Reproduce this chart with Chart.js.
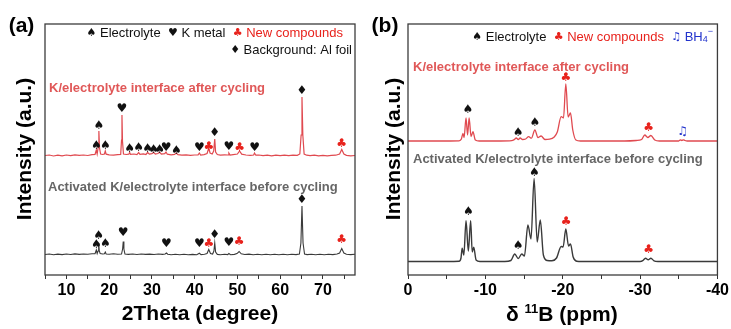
<!DOCTYPE html>
<html><head><meta charset="utf-8">
<script src="https://cdn.jsdelivr.net/npm/chart.js@4.4.0/dist/chart.umd.min.js"></script>
<style>html,body{margin:0;padding:0;background:#fff;overflow:hidden}
#wrap{position:relative;width:731px;height:329px;background:#fff}
canvas{position:absolute;top:0}
</style></head><body><div id="wrap"><canvas id="ca" width="366" height="329" style="left:0"></canvas><canvas id="cb" width="365" height="329" style="left:366px"></canvas></div>
<script>
// ---------- Panel (a): XRD, 2Theta (degree) vs intensity (a.u., offset) ----------
const xrdAfter = [[5,119.5],[6,120],[7,119],[8,119.8],[9,119.2],[10,120],[11,119.4],[12,120.2],[13,119.6],[14,120],[15,119.5],[16,120.3],[16.7,120.5],[17.0,125],[17.2,121],[17.45,128],[17.6,144],[17.75,127],[18.0,121],[18.5,120.5],[18.9,121],[19.1,124],[19.3,120.8],[20,120.2],[21,119.8],[22,120.4],[22.7,120.5],[22.9,135],[23.0,160],[23.12,134],[23.35,121],[24,120.5],[24.6,120.8],[24.8,122.5],[25.0,120.6],[25.8,121],[26.5,120.4],[26.9,122.5],[27.2,120.6],[28,121.2],[28.6,120.5],[29.0,122.5],[29.4,120.8],[30.0,121.4],[30.4,122.6],[30.8,121],[31.4,121.5],[31.8,122.8],[32.2,121],[33.0,121.4],[33.3,123],[33.6,120.8],[34.5,120.2],[35.3,120.6],[35.7,122],[36.1,120.4],[37,119.8],[38,120.2],[39,119.6],[40,120],[40.8,120.2],[41.1,122],[41.4,120],[42.2,120.4],[42.9,121.5],[43.3,127],[43.6,122],[44.1,121],[44.45,124],[44.7,136],[44.9,123],[45.3,120.5],[46,119.8],[47,120.2],[47.8,120],[48.0,122],[48.3,120],[49,120.4],[50,121],[50.5,124],[51,120.8],[52,120],[53,119.6],[53.8,120],[54.0,122],[54.3,119.8],[55,120],[56,119.4],[57,119.8],[58,119.2],[59,119.8],[60,119.3],[61,119.9],[62,119.4],[63,119.8],[64,119.6],[64.6,121],[64.9,140],[65.1,178],[65.3,140],[65.6,121],[66.2,119.8],[67,119.4],[68,119.9],[69,119.2],[70,119.7],[71,119.1],[72,119.6],[73,119.8],[73.9,121],[74.4,125.5],[74.9,121],[75.5,119.6],[76.5,119.2],[77.5,119.5]];
const xrdBefore = [[5,20.5],[6,21],[7,20.2],[8,20.9],[9,20.4],[10,21],[11,20.5],[12,21.1],[13,20.6],[14,21],[15,20.7],[16,21.2],[16.7,21.3],[17.0,25],[17.2,21.5],[17.4,24],[17.55,32],[17.7,24],[17.9,21.5],[18.5,21],[18.9,21.3],[19.1,23],[19.3,21],[20,20.8],[21,21.2],[22,20.7],[22.9,21],[23.15,26],[23.3,33.5],[23.45,26],[23.7,21],[24.5,20.6],[25.5,21],[26.5,20.5],[27.5,21],[28.5,20.6],[29.5,20.9],[30.5,20.5],[31.5,21],[32.5,20.6],[33.1,21],[33.4,22],[33.7,20.8],[34.5,20.3],[35.5,20.8],[36.5,20.3],[37.5,20.7],[38.5,20.2],[39.5,20.6],[40.5,20.3],[41.1,21.8],[41.5,20.4],[42.3,20.8],[42.9,21.5],[43.3,25.5],[43.7,21.5],[44.2,21],[44.5,24],[44.7,32],[44.9,23],[45.3,20.6],[46,20.3],[47,20.7],[47.7,20.4],[48,21.5],[48.4,20.3],[49.3,20.6],[49.9,21.4],[50.4,23.5],[50.9,21.2],[51.7,20.5],[52.7,20.9],[53.7,20.3],[54.7,20.8],[55.7,20.2],[56.7,20.7],[57.7,20.3],[58.7,20.8],[59.7,20.2],[60.7,20.7],[61.7,20.3],[62.7,20.8],[63.7,20.4],[64.5,21],[64.85,32],[65.1,69],[65.35,32],[65.7,21],[66.3,20.4],[67.3,20.8],[68.3,20.2],[69.3,20.7],[70.3,20.3],[71.3,20.8],[72.3,20.4],[73.3,21],[73.9,22],[74.4,26.5],[74.9,22],[75.5,20.8],[76.5,20.4],[77.5,20.7]];
// peak markers: [2theta, intensity, kind]  S=electrolyte H=K metal C=new compound D=Al foil
const xrdAfterMarks = [[17.0,129,'S'],[17.6,149.5,'S'],[19.1,129,'S'],[23.0,166,'H'],[24.8,126.5,'S'],[26.9,127.5,'S'],[29.0,126.5,'S'],[30.4,125,'S'],[31.8,125.5,'S'],[33.3,127.5,'H'],[35.7,124,'S'],[41.1,127.5,'H'],[43.3,128.5,'C'],[44.7,142,'D'],[48.0,128,'H'],[50.5,127,'C'],[54.0,127,'H'],[65.1,184,'D'],[74.4,131.5,'C']];
const xrdBeforeMarks = [[17.0,30,'S'],[17.55,39.5,'S'],[19.1,31,'S'],[23.3,42,'H'],[33.4,31,'H'],[41.1,31,'H'],[43.3,31,'C'],[44.7,40,'D'],[48.0,32,'H'],[50.4,33,'C'],[65.1,75,'D'],[74.4,35,'C']];
const xrdTicks = [10,20,30,40,50,60,70];

// ---------- Panel (b): 11B NMR, delta (ppm) ----------
const nmrAfter = [[0,134],[-4,134],[-6.6,134.2],[-6.9,136],[-7.1,141.7],[-7.25,137.5],[-7.5,157],[-7.7,140],[-7.9,157],[-8.15,138.5],[-8.4,143.3],[-8.7,135],[-9.2,134],[-12,134],[-13.4,134.3],[-13.75,135.5],[-14.0,137],[-14.25,135.5],[-14.5,137],[-14.8,135.5],[-15.2,136],[-15.6,138.3],[-15.95,136.8],[-16.4,145],[-16.8,137.5],[-17.2,139],[-17.7,135.5],[-18.3,135.8],[-18.9,138],[-19.3,143],[-19.8,158.3],[-20.1,157],[-20.4,191],[-20.7,158],[-21.0,162],[-21.3,145],[-21.7,135],[-22.3,134],[-28,134],[-29.5,134.5],[-30.2,135.5],[-30.6,140],[-31.0,137.5],[-31.4,139.5],[-31.9,135],[-32.5,134],[-35,134],[-35.2,135.2],[-35.4,134.5],[-35.6,135.2],[-35.8,134.5],[-36.1,134],[-40,134]];
const nmrBefore = [[0,13.5],[-5,13.5],[-6.6,13.7],[-6.85,17],[-7.0,26.7],[-7.22,20],[-7.5,54.3],[-7.8,24],[-8.1,54.3],[-8.3,23],[-8.5,27.7],[-8.8,15],[-9.3,13.5],[-12.5,13.5],[-13.3,14.5],[-13.8,21],[-14.25,16.5],[-14.7,21],[-15.05,19],[-15.5,50],[-15.9,36],[-16.3,96.5],[-16.7,33],[-17.1,55],[-17.5,20],[-18.0,14.5],[-18.6,14.2],[-19.2,17],[-19.8,28.5],[-20.05,28],[-20.4,46],[-20.75,29],[-21.0,31],[-21.35,18],[-21.8,13.8],[-22.5,13.5],[-30,13.5],[-30.35,14.3],[-30.7,16.7],[-31.05,15.2],[-31.4,16.7],[-31.8,14.2],[-32.3,13.5],[-40,13.5]];
const nmrAfterMarks = [[-7.75,165,'S'],[-14.25,142.3,'S'],[-16.4,152.3,'S'],[-20.4,197,'C'],[-31.1,146.7,'C'],[-35.5,143.3,'N']];
const nmrBeforeMarks = [[-7.8,62.7,'S'],[-14.25,29.3,'S'],[-16.35,102,'S'],[-20.45,53.3,'C'],[-31.1,25,'C']];
const nmrTicks = [0,-10,-20,-30,-40];

// ---------- styling / drawing ----------
const FONT = '"Liberation Sans", Arial, sans-serif';
const SYMF = '"DejaVu Sans", sans-serif';
const RED = '#e04a50', REDTXT = '#e05858', GRAYTXT = '#666666', CLUB = '#e8221c', BLUE = '#2233cc';
const SYM = {S:'\u2660', H:'\u2665', C:'\u2663', D:'\u2666', N:'\u266B'};
const SYMCOL = {S:'#111', H:'#111', C:CLUB, D:'#111', N:BLUE};
Chart.defaults.font.family = FONT;

function drawMarks(chart, marks){
  const ctx = chart.ctx, xs = chart.scales.x, ys = chart.scales.y;
  ctx.save(); ctx.font = '12px ' + SYMF; ctx.textAlign = 'center'; ctx.textBaseline = 'middle';
  marks.forEach(m => { ctx.fillStyle = SYMCOL[m[2]]; ctx.fillText(SYM[m[2]], xs.getPixelForValue(m[0]), ys.getPixelForValue(m[1])); });
  ctx.restore();
}
function drawRuns(ctx, runs, x, y, alignRight){
  ctx.save(); ctx.textBaseline = 'middle'; ctx.textAlign = 'left';
  let w = 0;
  runs.forEach(r => { ctx.font = r.f; w += ctx.measureText(r.t).width; });
  let cx = alignRight ? x - w : x;
  runs.forEach(r => { ctx.font = r.f; ctx.fillStyle = r.c; ctx.fillText(r.t, cx, y + (r.dy||0)); cx += ctx.measureText(r.t).width; });
  ctx.restore();
}
function frame(chart){
  const a = chart.chartArea, ctx = chart.ctx;
  ctx.save(); ctx.strokeStyle = '#3c3c3c'; ctx.lineWidth = 1.3;
  ctx.strokeRect(a.left, a.top, a.right - a.left, a.bottom - a.top); ctx.restore();
}
function text(ctx, t, x, y, font, color, align, rot){
  ctx.save(); ctx.font = font; ctx.fillStyle = color; ctx.textAlign = align || 'center'; ctx.textBaseline = 'middle';
  ctx.translate(x, y); if (rot) ctx.rotate(rot); ctx.fillText(t, 0, 0); ctx.restore();
}

function xScale(min, max, reverse, labels){
  return { type:'linear', min, max, reverse,
    ticks:{ stepSize:5, includeBounds:false, autoSkip:false, maxRotation:0, padding:2, color:'#000',
      font:{size:16, weight:'bold'}, callback: v => labels.includes(v) ? String(v) : '' },
    grid:{ drawOnChartArea:false, drawTicks:true, tickLength:4, color:'#333' },
    border:{ display:false },
    afterFit(s){ s.height = 54; } };
}
function yScale(w){
  return { type:'linear', min:0, max:251, ticks:{display:false}, grid:{display:false}, border:{display:false},
    afterFit(s){ s.width = w; } };
}

const pa = { id:'pa', afterDraw(chart){
  const ctx = chart.ctx;
  frame(chart);
  drawMarks(chart, xrdAfterMarks); drawMarks(chart, xrdBeforeMarks);
  const lf = '13px ' + FONT, sf = '11px ' + SYMF;
  drawRuns(ctx, [{t:'\u2660',f:sf,c:'#111'},{t:' Electrolyte  ',f:lf,c:'#111'},{t:'\u2665',f:sf,c:'#111'},{t:' K metal  ',f:lf,c:'#111'},{t:'\u2663',f:sf,c:CLUB},{t:' New compounds',f:lf,c:CLUB}], 343, 33, true);
  drawRuns(ctx, [{t:'\u2666',f:sf,c:'#111'},{t:' Background: Al foil',f:lf,c:'#111'}], 352, 50, true);
  text(ctx, 'K/electrolyte interface after cycling', 49, 88, 'bold 13px ' + FONT, REDTXT, 'left');
  text(ctx, 'Activated K/electrolyte interface before cycling', 48, 187, 'bold 13px ' + FONT, GRAYTXT, 'left');
  text(ctx, '2Theta (degree)', 200, 314, 'bold 21px ' + FONT, '#000');
  text(ctx, 'Intensity (a.u.)', 25.5, 149, 'bold 21px ' + FONT, '#000', 'center', -Math.PI/2);
  text(ctx, '(a)', 21.5, 26.5, 'bold 21px ' + FONT, '#000');
}};
const pb = { id:'pb', afterDraw(chart){
  const ctx = chart.ctx;
  frame(chart);
  drawMarks(chart, nmrAfterMarks); drawMarks(chart, nmrBeforeMarks);
  const lf = '13px ' + FONT, sf = '11px ' + SYMF, small = '9px ' + FONT;
  drawRuns(ctx, [{t:'\u2660',f:sf,c:'#111'},{t:' Electrolyte  ',f:lf,c:'#111'},{t:'\u2663',f:sf,c:CLUB},{t:' New compounds  ',f:lf,c:CLUB},{t:'\u266B',f:sf,c:BLUE},{t:' BH',f:lf,c:BLUE},{t:'4',f:small,c:BLUE,dy:3},{t:'\u2212',f:small,c:BLUE,dy:-5}], 347, 37, true);
  text(ctx, 'K/electrolyte interface after cycling', 47, 67, 'bold 13px ' + FONT, REDTXT, 'left');
  text(ctx, 'Activated K/electrolyte interface before cycling', 47, 159, 'bold 13px ' + FONT, GRAYTXT, 'left');
  drawRuns(ctx, [{t:'\u03B4 ',f:'bold 21px ' + FONT,c:'#000'},{t:'11',f:'bold 13px ' + FONT,c:'#000',dy:-6},{t:'B (ppm)',f:'bold 21px ' + FONT,c:'#000'}], 140, 315, false);
  text(ctx, 'Intensity (a.u.)', 28.5, 149, 'bold 21px ' + FONT, '#000', 'center', -Math.PI/2);
  text(ctx, '(b)', 19, 26.5, 'bold 21px ' + FONT, '#000');
}};

const common = { responsive:false, animation:false, devicePixelRatio:1,
  plugins:{ legend:{display:false}, tooltip:{enabled:false} }, elements:{ point:{radius:0} } };

new Chart(document.getElementById('ca'), {
  type:'line',
  data:{ datasets:[
    { data:xrdAfter, borderColor:RED, borderWidth:1.2, tension:0, fill:false },
    { data:xrdBefore, borderColor:'#3a3a3a', borderWidth:1.1, tension:0, fill:false } ] },
  options:Object.assign({}, common, { layout:{ padding:{ left:0, top:24, right:11, bottom:0 } },
    scales:{ x:xScale(5, 77.5, false, xrdTicks), y:yScale(45) } }),
  plugins:[pa]
});
new Chart(document.getElementById('cb'), {
  type:'line',
  data:{ datasets:[
    { data:nmrAfter, borderColor:RED, borderWidth:1.3, cubicInterpolationMode:'monotone', fill:false },
    { data:nmrBefore, borderColor:'#3a3a3a', borderWidth:1.4, cubicInterpolationMode:'monotone', fill:false } ] },
  options:Object.assign({}, common, { layout:{ padding:{ left:0, top:24, right:13, bottom:0 } },
    scales:{ x:xScale(-40, 0, true, nmrTicks), y:yScale(42) } }),
  plugins:[pb]
});
</script></body></html>
